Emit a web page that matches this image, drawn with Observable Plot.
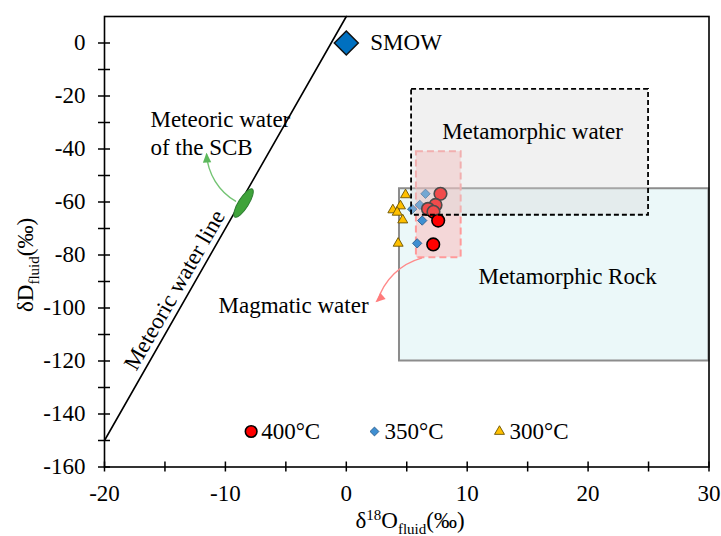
<!DOCTYPE html>
<html><head><meta charset="utf-8">
<script src="https://cdn.jsdelivr.net/npm/d3@7"></script>
<script src="https://cdn.jsdelivr.net/npm/@observablehq/plot@0.6"></script>
<style>
body{margin:0;background:#fff;}
#chart svg{font-family:"Liberation Serif","Times New Roman",serif;}
</style></head><body><div id="chart"></div>
<script>
// ---- data ----
const c400X = [7.79, 7.38, 6.76, 7.21, 7.60, 7.19];
const c400Y = [-56.9, -61.1, -62.6, -63.7, -67.0, -76.0];
const d350X = [6.55, 6.08, 5.45, 6.28, 5.86];
const d350Y = [-56.9, -61.1, -62.7, -67.0, -75.6];
const t300X = [4.90, 4.48, 3.85, 4.21, 4.67, 4.29];
const t300Y = [-57.3, -61.5, -63.0, -63.9, -66.8, -75.6];
const smowX = [0];
const smowY = [0];
const mwlX = [-20, 0];
const mwlY = [-150, 10];
const metWaterX = [5.4, 25];
const metWaterY = [-65, -17.5];
const metRockX = [4.4, 30];
const metRockY = [-120, -55];
const magmaticX = [5.8, 9.5];
const magmaticY = [-81, -41];
const scbX = [-8.5];
const scbY = [-60.4];
const xTicks = [-20, -10, 0, 10, 20, 30];
const xMinor = [-15, -5, 5, 15, 25];
const yTicks = [0, -20, -40, -60, -80, -100, -120, -140, -160];
const yMinor = [-10, -30, -50, -70, -90, -110, -130, -150];
const legendLabels = ["400°C", "350°C", "300°C"];

// ---- tables built from the arrays ----
const pts = (X, Y) => X.map((x, i) => ({x, y: Y[i]}));
const c400 = pts(c400X, c400Y);
const d350 = pts(d350X, d350Y);
const t300 = pts(t300X, t300Y);
const smow = pts(smowX, smowY);
const mwl = pts(mwlX, mwlY);
const scb = pts(scbX, scbY);
const box = (X, Y) => [{x1: X[0], x2: X[1], y1: Y[0], y2: Y[1]}];

const FONT = 23;
const ellipseSym = {draw(ctx, size) {
  const r = Math.sqrt(size / Math.PI), a = r * 1.9, b = r * 0.58, k = 0.5523;
  ctx.moveTo(a, 0);
  ctx.bezierCurveTo(a, b * k, a * k, b, 0, b);
  ctx.bezierCurveTo(-a * k, b, -a, b * k, -a, 0);
  ctx.bezierCurveTo(-a, -b * k, -a * k, -b, 0, -b);
  ctx.bezierCurveTo(a * k, -b, a, -b * k, a, 0);
  ctx.closePath();
}};
const headSym = {draw(ctx, size) {
  const r = Math.sqrt(size / Math.PI);
  ctx.moveTo(0, 0); ctx.lineTo(-0.6 * r, 1.4 * r); ctx.lineTo(0.6 * r, 1.4 * r); ctx.closePath();
}};

const one = [0];
const legendY = -146.6;
const legendX = [-7.87, 2.33, 12.67];

const plot = Plot.plot({
  width: 721, height: 536,
  marginLeft: 104, marginRight: 12.5, marginTop: 16, marginBottom: 69.5,
  x: {domain: [-20, 30]},
  y: {domain: [-160, 10]},
  style: {fontFamily: "'Liberation Serif','Times New Roman',serif", fontSize: FONT + "px", color: "#000", background: "#fff"},
  marks: [
    Plot.rect(box(metRockX, metRockY), {x1: "x1", x2: "x2", y1: "y1", y2: "y2", fill: "#ebf8f9", stroke: "#8c8c8c", strokeWidth: 2}),
    Plot.rect(box(magmaticX, magmaticY), {x1: "x1", x2: "x2", y1: "y1", y2: "y2", fill: "#ffb0b0", fillOpacity: 0.45, stroke: "#ff9a9a", strokeWidth: 2, strokeDasharray: "7,4"}),
    Plot.line(mwl, {x: "x", y: "y", stroke: "#000", strokeWidth: 1.6}),
    // SCB meteoric water
    Plot.dot(scb, {x: "x", y: "y", symbol: ellipseSym, r: 8.7, rotate: -58, fill: "#3fa33a", stroke: "#2e7d32", strokeWidth: 1}),
    Plot.arrow(one, {x1: () => -9.16, y1: () => -59.7, x2: () => -11.56, y2: () => -42.0, bend: 28, stroke: "#74c474", strokeWidth: 1.4, headLength: 0}),
    Plot.dot(one, {x: () => -11.56, y: () => -41.4, symbol: headSym, r: 7, rotate: -3, fill: "#5cb85c"}),
    // magmatic arrow
    Plot.arrow(one, {x1: () => 6.22, y1: () => -81.2, x2: () => 2.6, y2: () => -97.3, bend: -29, stroke: "#ff8a8a", strokeWidth: 1.4, headLength: 0}),
    Plot.dot(one, {x: () => 2.41, y: () => -97.8, symbol: headSym, r: 7, rotate: -130, fill: "#ff7b7b"}),
    // samples
    Plot.dot(t300, {x: "x", y: "y", symbol: "triangle", r: 3.7, fill: "#ffc000", stroke: "#6b5200", strokeWidth: 0.9}),
    Plot.dot(d350, {x: "x", y: "y", symbol: "diamond2", r: 4.2, fill: "#3f8fd2", stroke: "#2b5d8c", strokeWidth: 0.9}),
    Plot.dot(c400, {x: "x", y: "y", r: 6.3, fill: "#ff0000", stroke: "#000", strokeWidth: 1.6}),
    // metamorphic water (on top, translucent)
    Plot.rect(box(metWaterX, metWaterY), {x1: "x1", x2: "x2", y1: "y1", y2: "y2", fill: "#d8d8d8", fillOpacity: 0.35, stroke: "#000", strokeWidth: 1.8, strokeDasharray: "5,3"}),
    // SMOW
    Plot.dot(smow, {x: "x", y: "y", symbol: "diamond2", r: 10.8, fill: "#0070c0", stroke: "#111", strokeWidth: 1.5}),
    Plot.text(smow, {x: "x", y: "y", text: () => "SMOW", textAnchor: "start", dx: 24, fontSize: FONT}),
    // annotations
    Plot.text(one, {x: () => 15.4, y: () => -33.5, text: () => "Metamorphic water", fontSize: FONT}),
    Plot.text(one, {x: () => 18.3, y: () => -88.3, text: () => "Metamorphic Rock", fontSize: FONT}),
    Plot.text(one, {x: () => 1.84, y: () => -99.0, text: () => "Magmatic water", textAnchor: "end", fontSize: FONT}),
    Plot.text(one, {x: () => -16.2, y: () => -33.6, text: () => "Meteoric water\nof the SCB", textAnchor: "start", lineHeight: 1.2, fontSize: FONT}),
    Plot.text(one, {x: () => -13.23, y: () => -95.8, text: () => "Meteoric water line", rotate: -60.2, dx: -11.8, dy: -6.8, fontSize: FONT}),
    // legend
    Plot.dot(one, {x: () => legendX[0], y: () => legendY, r: 5.8, fill: "#ff0000", stroke: "#000", strokeWidth: 1.6}),
    Plot.dot(one, {x: () => legendX[1], y: () => legendY, symbol: "diamond2", r: 4, fill: "#3f8fd2", stroke: "#2b5d8c", strokeWidth: 0.9}),
    Plot.dot(one, {x: () => legendX[2], y: () => legendY, symbol: "triangle", r: 3.7, fill: "#ffc000", stroke: "#6b5200", strokeWidth: 0.9}),
    Plot.text(legendLabels, {x: (d, i) => legendX[i], y: () => legendY, text: d => d, textAnchor: "start", dx: 10, fontSize: FONT}),
    // axes
    Plot.axisX({ticks: xTicks, tickSize: 0, tickPadding: 18, tickFormat: d => String(d), label: null, fontSize: FONT}),
    Plot.axisY({ticks: yTicks, tickSize: 0, tickPadding: 19, tickFormat: d => String(d), label: null, fontSize: FONT}),
    Plot.ruleY(yTicks.concat(yMinor), {x1: -20, x2: -20, insetLeft: -6, insetRight: -6, stroke: "#000", strokeWidth: 1.5}),
    Plot.ruleX(xTicks.concat(xMinor), {y1: -160, y2: -160, insetTop: -5, insetBottom: -5, stroke: "#000", strokeWidth: 1.5}),
    Plot.frame({stroke: "#000", strokeWidth: 1.6})
  ]
});

const svg = d3.select(plot);
// y axis title
const yt = svg.append("text").attr("transform", "translate(33,265) rotate(-90)").attr("text-anchor", "middle")
  .attr("font-size", FONT).attr("fill", "#000");
yt.append("tspan").text("δD");
yt.append("tspan").attr("font-size", 15).attr("dy", 6).text("fluid");
yt.append("tspan").attr("dy", -6).text("(‰)");
// x axis title
const xt = svg.append("text").attr("x", 410).attr("y", 528).attr("text-anchor", "middle")
  .attr("font-size", FONT).attr("fill", "#000");
xt.append("tspan").text("δ");
xt.append("tspan").attr("font-size", 15).attr("dy", -8).text("18");
xt.append("tspan").attr("dy", 8).text("O");
xt.append("tspan").attr("font-size", 15).attr("dy", 6).text("fluid");
xt.append("tspan").attr("dy", -6).text("(‰)");

document.getElementById("chart").append(plot);
</script></body></html>
